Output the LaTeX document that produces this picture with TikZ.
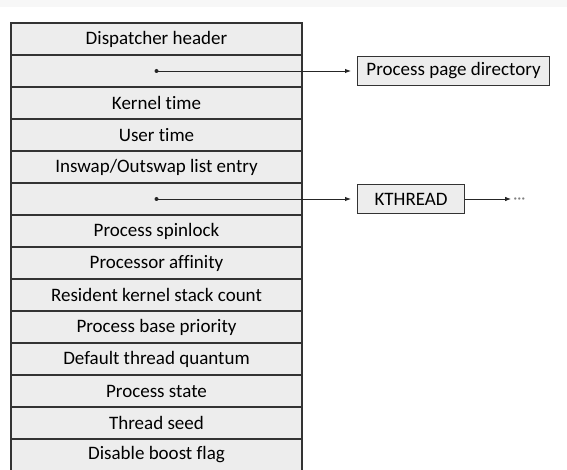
\documentclass[tikz,border=0pt]{standalone}
\usepackage{fontspec}
\setmainfont[Ligatures=NoCommon]{Carlito}
\usetikzlibrary{positioning,arrows.meta}
\tikzset{
  field/.style={draw=black!80, fill=black!7, line width=1.1pt, outer sep=0pt,
    minimum width=291pt, minimum height=32pt, inner sep=0pt,
    font=\fontsize{19}{21}\selectfont},
  target/.style={draw=black!80, fill=black!7, line width=1.1pt,
    minimum height=29pt, inner xsep=4pt, inner ysep=0pt,
    font=\fontsize{19}{21}\selectfont},
  ptr/.style={-{Latex[length=6pt,width=4.5pt]}, line width=0.9pt, black!85},
}
\begin{document}
\begin{tikzpicture}[x=1pt,y=-1pt]
  \useasboundingbox (0,0) rectangle (567,470);
  \fill[black!3] (0,0) rectangle (567,7);
  % process object fields
  \node[field, anchor=north west] (r1) at (11,23) {Dispatcher header};
  \foreach \txt [count=\i from 2, remember=\i as \j (initially 1)] in
    {{}, Kernel time, User time, Inswap/Outswap list entry, {},
     Process spinlock, Processor affinity, Resident kernel stack count,
     Process base priority, Default thread quantum, Process state,
     Thread seed, Disable boost flag}
    \node[field, below=0pt of r\j] (r\i) {\txt};
  % pointed-to structures
  \node[target, right=55pt of r2, minimum width=192pt] (pgdir) {Process page directory};
  \node[target, right=55pt of r6, minimum width=107pt] (kthread) {KTHREAD};
  \node[anchor=base west, inner sep=2pt, text=black!50,
    font=\fontsize{16}{18}\selectfont] (more)
    at ([xshift=46pt, yshift=-5pt]kthread.east)
    {\textperiodcentered\textperiodcentered\textperiodcentered};
  \fill[black!85] (r2.center) circle (2pt);
  \fill[black!85] (r6.center) circle (2pt);
  \draw[ptr, shorten >=6pt] (r2.center) -- (pgdir);
  \draw[ptr, shorten >=6pt] (r6.center) -- (kthread);
  \draw[ptr] (kthread) -- (more.west |- kthread.east);
\end{tikzpicture}
\end{document}
